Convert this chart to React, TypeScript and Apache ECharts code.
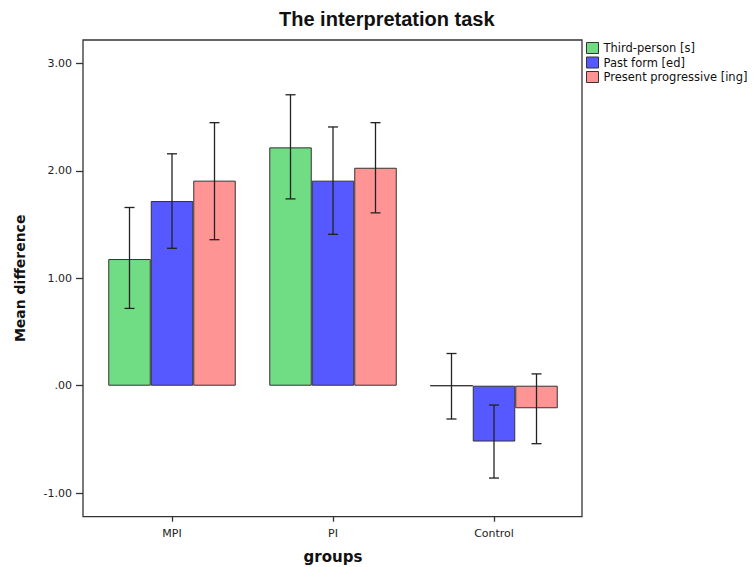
import React, { useEffect, useRef } from "react";
import * as echarts from "echarts";

const categories = ["MPI", "PI", "Control"];
const seriesNames = ["Third-person [s]", "Past form [ed]", "Present progressive [ing]"];
const thirdPerson = [1.18, 2.22, 0.0];
const pastForm = [1.72, 1.91, -0.52];
const presentProg = [1.91, 2.03, -0.21];
const thirdLow = [0.72, 1.74, -0.31];
const thirdHigh = [1.66, 2.71, 0.3];
const pastLow = [1.28, 1.41, -0.86];
const pastHigh = [2.16, 2.41, -0.18];
const presLow = [1.36, 1.61, -0.54];
const presHigh = [2.45, 2.45, 0.11];
const yTicks = [-1, 0, 1, 2, 3];
const Y_MIN = -1.22;
const Y_MAX = 3.22;

const colors = ["#70DC84", "#5559FF", "#FF9494"];
const BAR_W = 42.5;

export default function App() {
  const ref = useRef<HTMLDivElement>(null);
  useEffect(() => {
    if (!ref.current) return;
    const chart = echarts.init(ref.current, null, { renderer: "svg" });
    const values = [thirdPerson, pastForm, presentProg];
    const lows = [thirdLow, pastLow, presLow];
    const highs = [thirdHigh, pastHigh, presHigh];

    const barSeries = values.map((v, i) => ({
      name: seriesNames[i],
      type: "bar",
      xAxisIndex: 0,
      yAxisIndex: 0,
      data: v,
      barWidth: BAR_W,
      barGap: "0%",
      itemStyle: { color: colors[i], borderColor: "#333", borderWidth: 1 },
      z: 2,
    }));

    const errSeries = values.map((_, i) => ({
      name: "err" + i,
      type: "custom",
      xAxisIndex: 0,
      yAxisIndex: 0,
      z: 5,
      data: categories.map((_c, k) => [k, lows[i][k], highs[i][k]]),
      encode: { x: 0, y: [1, 2] },
      renderItem: (params: any, api: any) => {
        const k = api.value(0);
        const lo = api.coord([k, api.value(1)]);
        const hi = api.coord([k, api.value(2)]);
        const x = lo[0] + (i - 1) * BAR_W;
        const cw = 5;
        const style = { stroke: "#222", lineWidth: 1.3 };
        return {
          type: "group",
          children: [
            { type: "line", shape: { x1: x, y1: lo[1], x2: x, y2: hi[1] }, style },
            { type: "line", shape: { x1: x - cw, y1: lo[1], x2: x + cw, y2: lo[1] }, style },
            { type: "line", shape: { x1: x - cw, y1: hi[1], x2: x + cw, y2: hi[1] }, style },
          ],
        };
      },
    }));

    const fmt = (v: number) => v.toFixed(2).replace(/^(-?)0\./, "$1.");

    chart.setOption({
      animation: false,
      backgroundColor: "#fff",
      title: {
        text: "The interpretation task",
        left: 274,
        top: 4,
        textStyle: { fontFamily: "Liberation Sans", fontWeight: "bold", fontSize: 20, color: "#111" },
      },
      legend: {
        data: seriesNames,
        orient: "vertical",
        left: 586,
        top: 42,
        padding: 0,
        itemWidth: 12,
        itemHeight: 11,
        itemGap: 2.5,
        icon: "rect",
        itemStyle: { borderColor: "#333", borderWidth: 1 },
        textStyle: { fontFamily: "DejaVu Sans", fontSize: 11.5, color: "#111", lineHeight: 11 },
      },
      grid: [
        { left: 91.5, right: 179.5, top: 40, bottom: 50.3, containLabel: false, outerBoundsMode: "none" },
        {
          left: 83,
          right: 172,
          top: 40,
          bottom: 50.3,
          containLabel: false,
          outerBoundsMode: "none",
          show: true,
          borderColor: "#333",
          borderWidth: 1.3,
          backgroundColor: "transparent",
        },
      ],
      xAxis: [
        {
          type: "category",
          gridIndex: 0,
          data: categories,
          name: "groups",
          nameLocation: "middle",
          nameGap: 33,
          nameTextStyle: { fontFamily: "DejaVu Sans", fontWeight: "bold", fontSize: 15, color: "#111" },
          axisLine: { show: false, onZero: false },
          axisTick: { show: true, alignWithLabel: true, length: 5, lineStyle: { color: "#333", width: 1.3 } },
          axisLabel: { fontFamily: "DejaVu Sans", fontSize: 11, color: "#222", margin: 11 },
          splitLine: { show: false },
        },
        { type: "value", gridIndex: 1, show: false, min: 0, max: 1 },
      ],
      yAxis: [
        { type: "value", gridIndex: 0, show: false, min: Y_MIN, max: Y_MAX, splitLine: { show: false } },
        {
          type: "value",
          gridIndex: 1,
          min: Y_MIN,
          max: Y_MAX,
          name: "Mean difference",
          nameLocation: "middle",
          nameGap: 56,
          nameTextStyle: { fontFamily: "DejaVu Sans", fontWeight: "bold", fontSize: 14, color: "#111" },
          axisLine: { show: false, onZero: false },
          axisTick: { show: true, length: 7, customValues: yTicks, lineStyle: { color: "#333", width: 1.3 } },
          axisLabel: {
            customValues: yTicks,
            formatter: (v: number) => fmt(v),
            fontFamily: "DejaVu Sans",
            fontSize: 11,
            color: "#222",
            margin: 11,
          },
          splitLine: { show: false },
        },
      ],
      series: [...barSeries, ...errSeries],
    });
    return () => chart.dispose();
  }, []);
  return <div ref={ref} style={{ position: "fixed", left: 0, top: 0, width: 754, height: 567 }} />;
}
